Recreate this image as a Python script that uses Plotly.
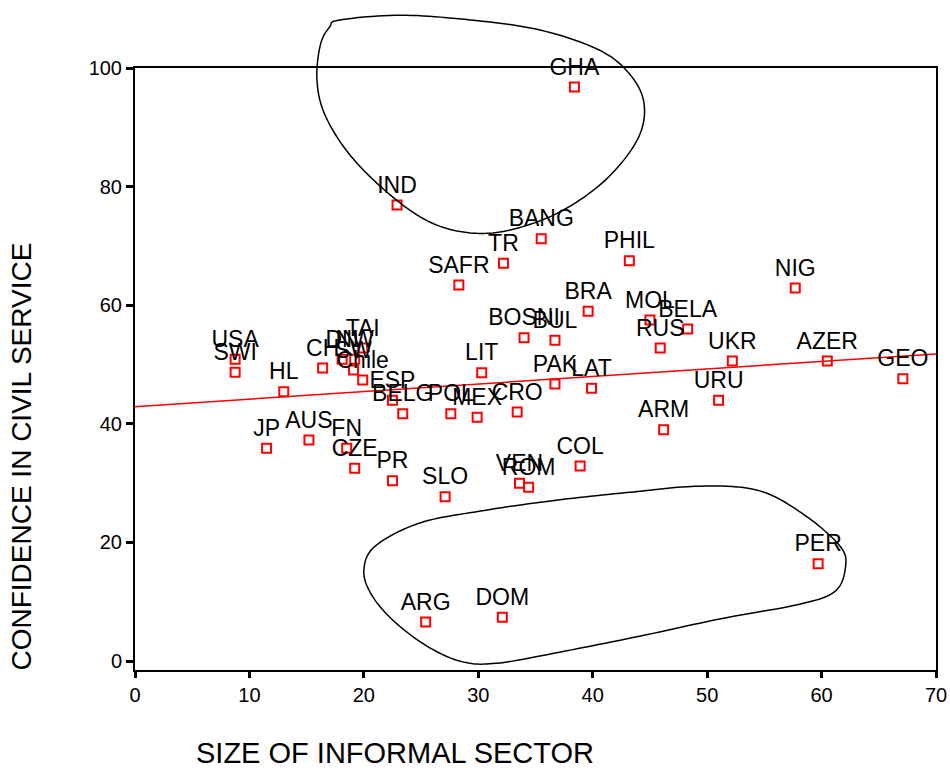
import numpy as np
import plotly.graph_objects as go

# ---- data ----
countries = ["GHA", "IND", "BANG", "TR", "PHIL", "SAFR", "NIG", "BRA", "MOL", "BELA",
             "RUS", "BOSNI", "BUL", "UKR", "AZER", "GEO", "URU", "ARM", "LIT", "PAK",
             "LAT", "CRO", "MEX", "POL", "BELG", "ESP", "Chile", "SW", "TAI", "NW",
             "DN", "CH", "USA", "SWI", "HL", "JP", "AUS", "FN", "CZE", "PR",
             "SLO", "VEN", "ROM", "COL", "ARG", "DOM", "PER"]
informal = [38.4, 22.9, 35.5, 32.2, 43.2, 28.3, 57.7, 39.6, 45.0, 48.3,
            45.9, 34.0, 36.7, 52.2, 60.5, 67.1, 51.0, 46.2, 30.3, 36.7,
            39.9, 33.4, 29.9, 27.6, 23.4, 22.5, 19.9, 19.1, 19.9, 19.2,
            18.1, 16.4, 8.75, 8.75, 13.0, 11.5, 15.2, 18.5, 19.2, 22.5,
            27.1, 33.6, 34.4, 38.9, 25.4, 32.1, 59.7]
confidence = [96.8, 76.9, 71.2, 67.1, 67.5, 63.4, 62.9, 59.0, 57.5, 56.0,
              52.8, 54.5, 54.1, 50.6, 50.6, 47.6, 44.0, 39.0, 48.6, 46.7,
              46.0, 42.0, 41.1, 41.7, 41.7, 44.0, 47.4, 49.1, 52.8, 50.9,
              50.9, 49.4, 50.9, 48.7, 45.4, 35.9, 37.3, 35.9, 32.5, 30.4,
              27.7, 30.0, 29.3, 32.9, 6.6, 7.4, 16.4]

fit_x = [0, 70]
fit_y = [42.9, 51.8]

x_ticks = [0, 10, 20, 30, 40, 50, 60, 70]
y_ticks = [0, 20, 40, 60, 80, 100]

# hand-drawn outlines (data units), top group and bottom group
loop_top_x = [17.9, 23.2, 29.3, 35.4, 40.6, 43.3, 44.5, 43.9, 41.1, 37.1, 32.8, 29.3,
              25.8, 22.3, 18.8, 16.6, 15.9, 16.2, 17.0]
loop_top_y = [108.1, 108.9, 108.1, 106.4, 103.0, 98.8, 93.8, 87.9, 81.1, 75.7, 72.7, 72.2,
              74.0, 78.6, 85.3, 92.1, 98.0, 103.9, 106.9]
loop_bot_x = [21.0, 24.9, 30.2, 36.3, 42.4, 49.4, 54.6, 58.6, 61.6, 62.1, 61.2, 58.1,
              51.1, 44.1, 37.1, 31.9, 28.8, 25.8, 22.7, 20.7, 20.0]
loop_bot_y = [19.4, 23.3, 25.3, 27.0, 28.3, 29.5, 28.7, 24.5, 19.4, 16.0, 11.8, 9.6,
              7.1, 4.2, 1.5, -0.3, -0.2, 2.2, 6.6, 11.1, 15.3]

X_RANGE = [0, 70]
Y_RANGE = [-1.5, 100]


def catmull_closed(xs, ys, n=12):
    pts = list(zip(xs, ys))
    m = len(pts)
    out = []
    for i in range(m):
        p0, p1, p2, p3 = pts[i - 1], pts[i], pts[(i + 1) % m], pts[(i + 2) % m]
        for t in np.linspace(0, 1, n, endpoint=False):
            t2, t3 = t * t, t * t * t
            px = 0.5 * ((2 * p1[0]) + (-p0[0] + p2[0]) * t + (2 * p0[0] - 5 * p1[0] + 4 * p2[0] - p3[0]) * t2 + (-p0[0] + 3 * p1[0] - 3 * p2[0] + p3[0]) * t3)
            py = 0.5 * ((2 * p1[1]) + (-p0[1] + p2[1]) * t + (2 * p0[1] - 5 * p1[1] + 4 * p2[1] - p3[1]) * t2 + (-p0[1] + 3 * p1[1] - 3 * p2[1] + p3[1]) * t3)
            out.append((px, py))
    return out


def to_paper_path(xs, ys):
    pts = catmull_closed(xs, ys)
    fx = lambda v: (v - X_RANGE[0]) / (X_RANGE[1] - X_RANGE[0])
    fy = lambda v: (v - Y_RANGE[0]) / (Y_RANGE[1] - Y_RANGE[0])
    d = "M %.5f %.5f " % (fx(pts[0][0]), fy(pts[0][1]))
    d += " ".join("L %.5f %.5f" % (fx(a), fy(b)) for a, b in pts[1:])
    return d + " Z"


fig = go.Figure()

fig.add_trace(go.Scatter(
    x=fit_x, y=fit_y, mode="lines",
    line=dict(color="#ff0000", width=1.5),
    hoverinfo="skip", showlegend=False))

fig.add_trace(go.Scatter(
    x=informal, y=confidence, mode="markers+text",
    text=countries, textposition="top center",
    textfont=dict(family="Liberation Sans, Arial, sans-serif", size=23, color="black"),
    marker=dict(symbol="square-open", size=9, color="#ff0000", line=dict(width=2, color="#ff0000")),
    cliponaxis=False, showlegend=False))

shapes = []
for lx, ly in [(loop_top_x, loop_top_y), (loop_bot_x, loop_bot_y)]:
    shapes.append(dict(type="path", xref="paper", yref="paper",
                       path=to_paper_path(lx, ly),
                       line=dict(color="black", width=1.5), layer="above"))

fig.update_layout(
    width=950, height=772,
    margin=dict(l=135, r=14, t=68, b=102, autoexpand=False),
    paper_bgcolor="white", plot_bgcolor="white",
    font=dict(family="Liberation Sans, Arial, sans-serif", color="black"),
    shapes=shapes,
    xaxis=dict(range=X_RANGE, tickvals=x_ticks, ticks="outside", ticklen=6, tickwidth=3,
               tickcolor="black", showgrid=False, zeroline=False, automargin=False,
               showline=True, linecolor="black", linewidth=2, mirror=True,
               tickfont=dict(size=20, color="black")),
    yaxis=dict(range=Y_RANGE, tickvals=y_ticks, ticks="outside", ticklen=7, tickwidth=3,
               tickcolor="black", showgrid=False, zeroline=False, automargin=False,
               showline=True, linecolor="black", linewidth=2, mirror=True,
               tickfont=dict(size=20, color="black")),
    annotations=[
        dict(text="CONFIDENCE IN CIVIL SERVICE", textangle=-90, xref="paper", yref="paper",
             x=-0.142, y=0.355, showarrow=False, xanchor="center", yanchor="middle",
             font=dict(size=28, color="black")),
        dict(text="SIZE OF INFORMAL SECTOR", xref="paper", yref="paper",
             x=0.325, y=-0.138, showarrow=False, xanchor="center", yanchor="middle",
             font=dict(size=29, color="black")),
    ],
)

fig.write_html("out.html")
